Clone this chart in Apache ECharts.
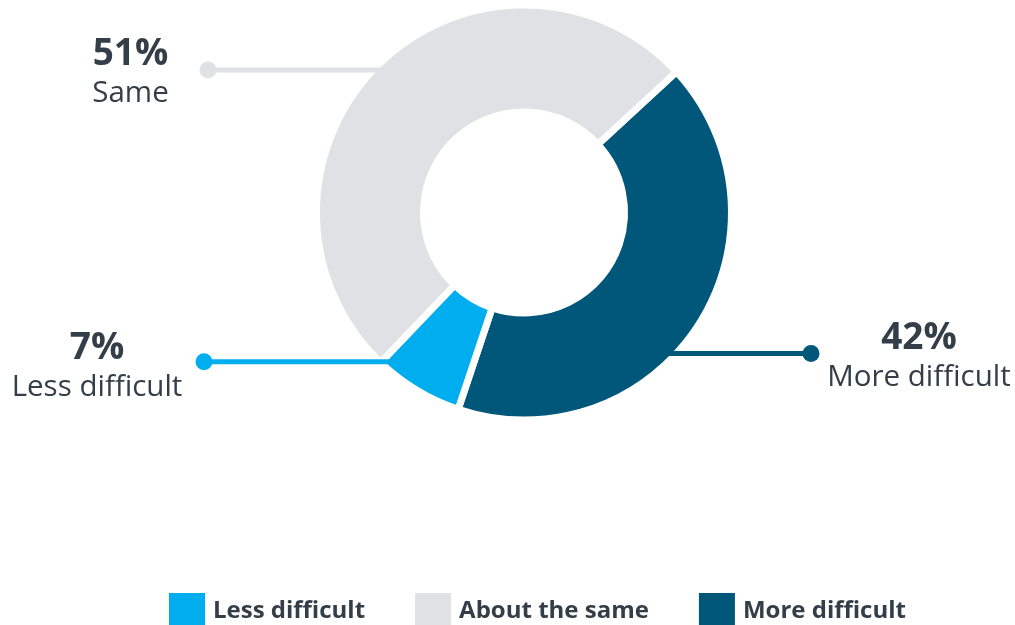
<!DOCTYPE html>
<html>
<head>
<meta charset="utf-8">
<script src="https://cdn.jsdelivr.net/npm/echarts@6/dist/echarts.min.js"></script>
<style>
  html, body { margin: 0; padding: 0; background: #ffffff; }
  #chart { width: 1015px; height: 625px; }
</style>
</head>
<body>
<div id="chart"></div>
<script>
// Answers, in clockwise drawing order starting at the upper-right gap
const categories = ['More difficult', 'Less difficult', 'About the same'];
const shortLabels = ['More difficult', 'Less difficult', 'Same'];
const shares = [42, 7, 51];
const legendOrder = ['Less difficult', 'About the same', 'More difficult'];
const sliceColors = ['#00577a', '#00aeef', '#dfe1e5'];

// Ring geometry (pixels)
const CENTER = [524, 212.5];
const R_OUT = 204;
const R_IN = 104;
const GAP = 7;
const TEXT_COLOR = '#333e48';
const FONT = '"Open Sans", "Noto Sans", sans-serif';

// Leader placement, relative to the ring centre:
// lineDy = height of the horizontal leader, dotDx = where it ends,
// textDx / textDy = middle of the two-line label block.
const leaders = [
  { lineDy: 141,    dotDx: 287,  textDx: 395,    textDy: 145 },
  { lineDy: 149.2,  dotDx: -320, textDx: -427,   textDy: 155 },
  { lineDy: -142.5, dotDx: -316, textDx: -393.5, textDy: -139 }
];

const chart = echarts.init(document.getElementById('chart'), null, { renderer: 'canvas' });

// Visible ring, carrying the value/name labels
const ringData = categories.map((name, i) => ({
  name: name,
  value: shares[i],
  itemStyle: { color: sliceColors[i] }
}));

// Transparent twin ring, drawn on top, carrying the leader lines and end dots
const leaderData = categories.map((name, i) => ({
  name: name,
  value: shares[i],
  label: {
    rich: {
      d: { width: 17, height: 17, lineHeight: 17, fontSize: 1,
           borderRadius: 8.5, backgroundColor: sliceColors[i] }
    }
  },
  labelLine: { lineStyle: { color: sliceColors[i] } }
}));

// Horizontal leader from inside the slice out to the dot
function leaderLayout(params) {
  const L = leaders[params.dataIndex];
  const y = CENTER[1] + L.lineDy;
  const side = L.dotDx > 0 ? 1 : -1;
  const edge = Math.sqrt(Math.max(0, R_OUT * R_OUT - L.lineDy * L.lineDy));
  const startX = CENTER[0] + side * (edge - 12);
  const dotX = CENTER[0] + L.dotDx;
  return {
    x: dotX,
    y: y,
    align: 'center',
    verticalAlign: 'middle',
    labelLinePoints: [[startX, y], [dotX, y], [dotX, y]]
  };
}

function textLayout(params) {
  const L = leaders[params.dataIndex];
  return {
    x: CENTER[0] + L.textDx,
    y: CENTER[1] + L.textDy,
    align: 'center',
    verticalAlign: 'middle'
  };
}

const pieBase = {
  type: 'pie',
  center: CENTER,
  radius: [R_IN - GAP / 2, R_OUT + GAP / 2],
  startAngle: 42.7,
  clockwise: true,
  avoidLabelOverlap: false,
  animation: false
};

chart.setOption({
  backgroundColor: '#ffffff',
  animation: false,
  legend: {
    data: legendOrder,
    left: 167,
    top: 591,
    padding: 0,
    icon: 'rect',
    itemWidth: 38,
    itemHeight: 38,
    itemGap: 48,
    selectedMode: false,
    textStyle: {
      fontFamily: FONT,
      fontWeight: 'bold',
      fontSize: 24,
      color: TEXT_COLOR,
      padding: [0, 0, 0, 2]
    }
  },
  series: [
    Object.assign({}, pieBase, {
      name: 'ring',
      z: 2,
      itemStyle: { borderColor: '#ffffff', borderWidth: GAP, borderJoin: 'miter' },
      emphasis: { disabled: true },
      label: {
        show: true,
        position: 'outside',
        color: TEXT_COLOR,
        fontFamily: FONT,
        formatter: p => '{p|' + p.value + '%}\n{n|' + shortLabels[p.dataIndex] + '}',
        rich: {
          p: { fontFamily: FONT, fontWeight: 'bold', fontSize: 37, lineHeight: 40,
               color: TEXT_COLOR, align: 'center' },
          n: { fontFamily: FONT, fontSize: 29.5, lineHeight: 38,
               color: TEXT_COLOR, align: 'center' }
        }
      },
      labelLine: { show: false },
      labelLayout: textLayout,
      data: ringData
    }),
    Object.assign({}, pieBase, {
      name: 'leaders',
      z: 3,
      silent: true,
      legendHoverLink: false,
      itemStyle: { color: 'rgba(0,0,0,0)', borderWidth: 0 },
      emphasis: { disabled: true },
      label: {
        show: true,
        position: 'outside',
        opacity: 1,
        formatter: '{d| }'
      },
      labelLine: {
        show: true,
        showAbove: true,
        length: 10,
        length2: 10,
        lineStyle: { width: 5, cap: 'butt', opacity: 1 }
      },
      labelLayout: leaderLayout,
      data: leaderData
    })
  ]
});
</script>
</body>
</html>
